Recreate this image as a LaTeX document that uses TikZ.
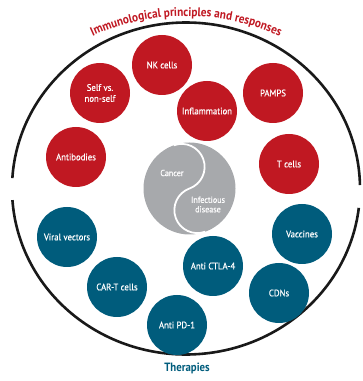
\documentclass[tikz,border=0pt]{standalone}
\usepackage{fontspec}
\setmainfont{PT Sans}
\newfontfamily\headfont[FakeStretch=0.9]{PT Sans}
\newfontfamily\cellfont[FakeStretch=0.92, FakeBold=0.5]{PT Sans}
\usepackage{tikz}
\usetikzlibrary{decorations.text}

\definecolor{immred}{RGB}{192,24,34}
\definecolor{therablue}{RGB}{0,92,124}
\definecolor{diseasegray}{RGB}{167,169,172}

\begin{document}
\begin{tikzpicture}[
    x=1pt, y=1pt,
    cell/.style={circle, minimum size=60pt, inner sep=0pt, text=white, align=center, font=\cellfont\fontsize{9.5}{11}\selectfont},
    redcell/.style={cell, fill=immred},
    bluecell/.style={cell, fill=therablue},
    ring/.style={line width=2.6pt, black!90},
    inlabel/.style={text=white, align=center, font=\cellfont\fontsize{8.8}{9.5}\selectfont}
]
\useasboundingbox (0,0) rectangle (363,381);
\coordinate (ctr) at (186,192.5);

% Outer ring, split at both sides
\draw[ring] (ctr) ++(1.2:174pt and 166pt) arc[start angle=1.2, end angle=176.4, x radius=174pt, y radius=166pt];
\draw[ring] (ctr) ++(184:174pt and 166pt) arc[start angle=184, end angle=353.3, x radius=174pt, y radius=166pt];

% Headings
\path[decorate, decoration={text along path, text align=center, text color=immred,
    text={|\headfont\fontsize{12.5}{14}\selectfont\bfseries|Immunological principles and responses}}]
    (186,140) ++(128:225pt) arc[start angle=128, end angle=52, radius=225pt];
\node[text=therablue, font=\headfont\fontsize{12}{14}\selectfont\bfseries] (thera) at (187,13) {Therapies};

% Immunological principles
\node[redcell] (nk) at (162,316) {NK cells};
\node[redcell] (self) at (100,288) {Self vs.\\non-self};
\node[redcell] (infl) at (207,270) {Inflammation};
\node[redcell] (pamps) at (273,288) {PAMPS};
\node[redcell] (antib) at (76,224) {Antibodies};
\node[redcell] (tcells) at (289,217) {T cells};

% Cancer / infectious disease
\node[circle, fill=diseasegray, minimum size=92pt, inner sep=0pt] (disease) at (189.5,192.5) {};
\draw[white, line width=1.8pt] (disease.center) ++(110:46pt)
    arc[start angle=110, end angle=-70, radius=23pt]
    arc[start angle=110, end angle=290, radius=23pt];
\node[inlabel] (cancer) at (172,208) {Cancer};
\node[inlabel] (infect) at (208,176.5) {Infectious\\disease};

% Therapies
\node[bluecell] (viral) at (67,144) {Viral vectors};
\node[bluecell] (vacc) at (302,147) {Vaccines};
\node[bluecell] (ctla) at (213,115) {Anti CTLA-4};
\node[bluecell] (cart) at (117,94) {CAR-T cells};
\node[bluecell] (cdn) at (279,88) {CDNs};
\node[bluecell] (pd1) at (177,56) {Anti PD-1};
\end{tikzpicture}
\end{document}
